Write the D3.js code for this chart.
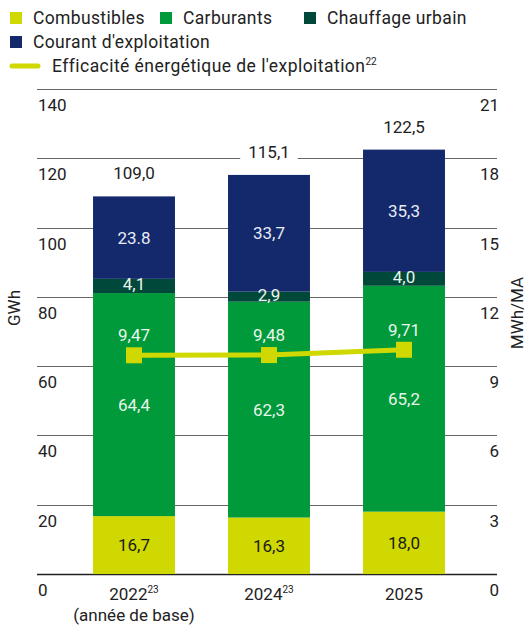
<!DOCTYPE html>
<html><head><meta charset="utf-8">
<script src="https://cdn.jsdelivr.net/npm/d3@7"></script>
<style>
html,body{margin:0;padding:0;background:#fff;}
svg{display:block;font-family:Roboto,"Liberation Sans",sans-serif;}
</style></head>
<body>
<svg id="chart" width="528" height="626"></svg>
<script>
const categories = ["2022", "2024", "2025"];
const categorySup = ["23", "23", ""];
const categorySub = ["(année de base)", "", ""];
const seriesNames = ["Combustibles", "Carburants", "Chauffage urbain", "Courant d'exploitation"];
const combustibles = [16.7, 16.3, 18.0];
const carburants = [64.4, 62.3, 65.2];
const chauffage = [4.1, 2.9, 4.0];
const courant = [23.8, 33.7, 35.3];
const combustiblesLabels = ["16,7", "16,3", "18,0"];
const carburantsLabels = ["64,4", "62,3", "65,2"];
const chauffageLabels = ["4,1", "2,9", "4,0"];
const courantLabels = ["23.8", "33,7", "35,3"];
const totalLabels = ["109,0", "115,1", "122,5"];
const efficacite = [9.47, 9.48, 9.71];
const efficaciteLabels = ["9,47", "9,48", "9,71"];
const leftTicks = [0, 20, 40, 60, 80, 100, 120, 140];
const rightTicks = [0, 3, 6, 9, 12, 15, 18, 21];
const lineName = "Efficacité énergétique de l'exploitation";
const lineSup = "22";

const colors = ["#cfd800", "#009a3b", "#00483a", "#13296b"];
const textColors = ["#1a1a1a", "#e8f5ec", "#e8f5ec", "#e8ecf5"];
const lineColor = "#cfd800";
const fs = 17;

const svg = d3.select("#chart");
const y = d3.scaleLinear().domain([0, 140]).range([574, 89]);
const y2 = d3.scaleLinear().domain([0, 21]).range([574, 89]);
const x = d3.scaleBand().domain(categories).range([66.5, 471.5]).paddingInner(0.393).paddingOuter(0.1965);
const gridX0 = 37, gridX1 = 497;

// gridlines
svg.append("g").selectAll("line").data(leftTicks).join("line")
  .attr("x1", gridX0).attr("x2", gridX1)
  .attr("y1", d => Math.round(y(d)) + 0.5).attr("y2", d => Math.round(y(d)) + 0.5)
  .attr("stroke", d => d === 0 ? "#222" : "#666").attr("stroke-width", d => d === 0 ? 1.5 : 1);

// left tick labels (below gridlines)
svg.append("g").selectAll("text").data(leftTicks).join("text")
  .attr("x", 38).attr("y", d => y(d) + 22)
  .attr("font-size", fs).attr("fill", "#222").text(d => d);
// right tick labels
svg.append("g").selectAll("text").data(rightTicks).join("text")
  .attr("x", 499).attr("y", d => y2(d) + 22).attr("text-anchor", "end")
  .attr("font-size", fs).attr("fill", "#222").text(d => d);

// axis titles
svg.append("text").attr("transform", "translate(20,308) rotate(-90)")
  .attr("text-anchor", "middle").attr("font-size", fs).attr("fill", "#222").text("GWh");
svg.append("text").attr("transform", "translate(523,313) rotate(-90)")
  .attr("text-anchor", "middle").attr("font-size", fs).attr("fill", "#222").text("MWh/MA");

// stacks
const table = categories.map((c, i) => ({cat: c, s0: combustibles[i], s1: carburants[i], s2: chauffage[i], s3: courant[i]}));
const keys = ["s0", "s1", "s2", "s3"];
const labelArrays = [combustiblesLabels, carburantsLabels, chauffageLabels, courantLabels];
const stacked = d3.stack().keys(keys)(table);

const gBars = svg.append("g");
stacked.forEach((layer, k) => {
  gBars.append("g").selectAll("rect").data(layer).join("rect")
    .attr("x", d => x(d.data.cat)).attr("width", x.bandwidth())
    .attr("y", d => y(d[1])).attr("height", d => y(d[0]) - y(d[1]))
    .attr("fill", colors[k]);
});
stacked.forEach((layer, k) => {
  gBars.append("g").selectAll("text").data(layer).join("text")
    .attr("x", d => x(d.data.cat) + x.bandwidth() / 2)
    .attr("y", (d) => (y(d[0]) + y(d[1])) / 2 + 6 - (k === 2 ? 2 : 0))
    .attr("text-anchor", "middle").attr("font-size", fs).attr("fill", textColors[k])
    .text((d, i) => labelArrays[k][i]);
});

// totals with white background
const topLayer = stacked[3];
const gTot = svg.append("g");
topLayer.forEach((d, i) => {
  const cx = x(d.data.cat) + x.bandwidth() / 2;
  const by = y(d[1]) - 17;
  const t = gTot.append("text").attr("x", cx).attr("y", by).attr("text-anchor", "middle")
    .attr("font-size", fs).attr("fill", "#222").text(totalLabels[i]);
  const bb = t.node().getBBox();
  gTot.insert("rect", "text").attr("x", bb.x - 8).attr("y", bb.y).attr("width", bb.width + 16).attr("height", bb.height).attr("fill", "#fff");
});

// efficiency line
const cxs = categories.map(c => x(c) + x.bandwidth() / 2);
svg.append("path")
  .attr("d", d3.line().x((d, i) => cxs[i]).y(d => y2(d))(efficacite))
  .attr("fill", "none").attr("stroke", lineColor).attr("stroke-width", 5);
svg.append("g").selectAll("rect").data(efficacite).join("rect")
  .attr("x", (d, i) => cxs[i] - 8).attr("y", d => y2(d) - 8)
  .attr("width", 16).attr("height", 16).attr("fill", lineColor);
svg.append("g").selectAll("text").data(efficacite).join("text")
  .attr("x", (d, i) => cxs[i]).attr("y", d => y2(d) - 14)
  .attr("text-anchor", "middle").attr("font-size", fs).attr("fill", "#e8f5ec")
  .text((d, i) => efficaciteLabels[i]);

// x labels
const gx = svg.append("g");
categories.forEach((c, i) => {
  const cx = cxs[i];
  const t = gx.append("text").attr("x", cx).attr("y", 600).attr("text-anchor", "middle")
    .attr("font-size", fs).attr("fill", "#222");
  t.append("tspan").text(c);
  if (categorySup[i]) t.append("tspan").attr("font-size", 10).attr("dy", -7).text(categorySup[i]);
  if (categorySub[i]) gx.append("text").attr("x", cx).attr("y", 621).attr("text-anchor", "middle")
    .attr("font-size", fs).attr("fill", "#222").text(categorySub[i]);
});

// legend
const legendPos = [[10, 18], [160, 18], [304, 18], [10, 42]];
const lg = svg.append("g");
const lfs = 17.5;
seriesNames.forEach((n, k) => {
  const [lx, ly] = legendPos[k];
  lg.append("rect").attr("x", lx).attr("y", ly - 6).attr("width", 12).attr("height", 12).attr("fill", colors[k]);
  lg.append("text").attr("x", lx + 23).attr("y", ly + 6).attr("font-size", lfs).attr("letter-spacing", 0.35).attr("fill", "#222").text(n);
});
lg.append("line").attr("x1", 12).attr("x2", 38).attr("y1", 66).attr("y2", 66)
  .attr("stroke", lineColor).attr("stroke-width", 5).attr("stroke-linecap", "round");
const lt = lg.append("text").attr("x", 52).attr("y", 72).attr("font-size", lfs).attr("letter-spacing", 0.45).attr("fill", "#222");
lt.append("tspan").text(lineName);
lt.append("tspan").attr("font-size", 10).attr("dy", -7).attr("letter-spacing", 0).text(lineSup);
</script>
</body></html>
